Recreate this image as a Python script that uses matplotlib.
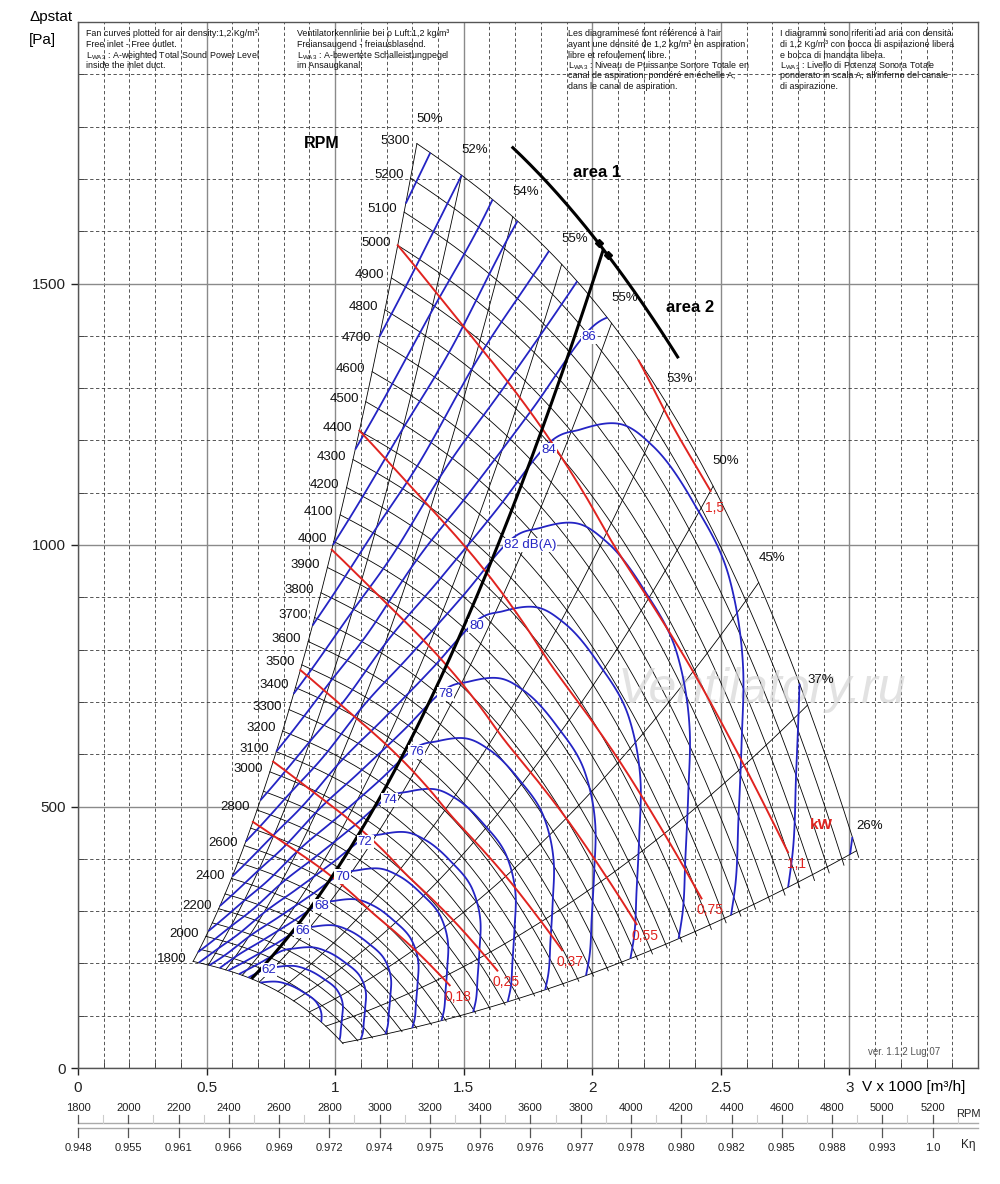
import numpy as np
import matplotlib
matplotlib.use('Agg')
import matplotlib.pyplot as plt
from matplotlib.ticker import MultipleLocator

plt.rcParams['font.family'] = ['Liberation Sans', 'DejaVu Sans']
plt.rcParams['mathtext.fontset'] = 'custom'
plt.rcParams['mathtext.rm'] = 'Liberation Sans'
plt.rcParams['mathtext.it'] = 'Liberation Sans:italic'
plt.rcParams['mathtext.bf'] = 'Liberation Sans:bold'

# ---------------- data ----------------
# fan curve at the top speed (V x1000 m3/h, Pa)
rpm_top = 5300
base_q = [1.318, 1.407, 1.492, 1.691, 1.881, 2.002, 2.095, 2.184, 2.289, 2.390, 2.499, 2.561, 2.647, 2.837, 3.028]
base_p = [1763, 1740, 1711, 1631, 1539, 1455, 1405, 1348, 1283, 1182, 1105, 1029, 910, 685, 421]
rpm_values = list(range(1800, 5301, 100))
rpm_labels = [5300, 5200, 5100, 5000, 4900, 4800, 4700, 4600, 4500, 4400, 4300, 4200,
              4100, 4000, 3900, 3800, 3700, 3600, 3500, 3400, 3300, 3200, 3100, 3000,
              2800, 2600, 2400, 2200, 2000, 1800]

# efficiency lines: flow where each meets the top-speed curve
eff_q = [1.318, 1.492, 1.691, 1.881, 2.075, 2.29, 2.47, 2.647, 2.837, 3.028]
eff_labels = ['50%', '52%', '54%', '55%', '55%', '53%', '50%', '45%', '37%', '26%']

# sound power along the top-speed curve (dB(A))
snd_q = [1.318, 1.37, 1.492, 1.597, 1.693, 1.82, 1.936, 2.02, 2.1, 2.2, 2.3, 2.45, 2.6, 2.72, 2.806, 2.9, 2.99, 3.028]
snd_db = [98.8, 98.0, 96.0, 94.3, 92.3, 90.2, 88.1, 86.4, 85.7, 85.0, 84.7, 84.55, 84.6, 85.2, 86.0, 86.9, 87.75, 88.2]
snd_levels = list(range(60, 100, 2))
snd_labeled = [62, 66, 68, 70, 72, 74, 76, 78, 80, 82, 84, 86]
snd_label_text = ['62', '66', '68', '70', '72', '74', '76', '78', '80', '82 dB(A)', '84', '86']

# absorbed power along the top-speed curve (kW)
pow_q = [1.318, 1.62, 1.94, 2.02, 2.18, 2.33, 2.5, 2.65, 2.82, 2.985, 3.028]
pow_kw = [1.31, 1.39, 1.455, 1.47, 1.50, 1.525, 1.515, 1.49, 1.45, 1.39, 1.37]
pow_levels = [0.18, 0.25, 0.37, 0.55, 0.75, 1.1, 1.5]
pow_labels = ['0,18', '0,25', '0,37', '0,55', '0,75', '1,1', '1,5']
pow_end_q = [2.884, 2.91, 2.94, 2.965, 2.98, 2.985, 2.47]

# operating line (parabola coefficient) and area separator
oper_k = 375
sep_q = [1.691, 1.796, 1.873, 2.029, 2.165, 2.332]
sep_p = [1759, 1713, 1662, 1572, 1488, 1358]

# bottom scales
rpm_scale = list(range(1800, 5201, 200))
keta_labels = ['0.948', '0.955', '0.961', '0.966', '0.969', '0.972', '0.974', '0.975', '0.976',
               '0.976', '0.977', '0.978', '0.980', '0.982', '0.985', '0.988', '0.993', '1.0']

x_ticks = [0, 0.5, 1, 1.5, 2, 2.5, 3]
x_tick_labels = ['0', '0.5', '1', '1.5', '2', '2.5', '3']
y_ticks = [0, 500, 1000, 1500]

header_cols = [
    ["Fan curves plotted for air density:1,2 Kg/m³",
     "Free inlet - Free outlet.",
     r"L$_{\mathrm{WA3}}$ : A-weighted Total Sound Power Level",
     "inside the inlet duct."],
    ["Ventilatorkennlinie bei ρ Luft:1,2 kg/m³",
     "Freiansaugend - freiausblasend.",
     r"L$_{\mathrm{WA3}}$ : A-bewertete Schalleistungpegel",
     "im Ansaugkanal."],
    ["Les diagrammesé font référence à l'air",
     "ayant une densité de 1,2 kg/m³ en aspiration",
     "libre et refoulement libre.",
     r"L$_{\mathrm{WA3}}$ : Niveau de Puissance Sonore Totale en",
     "canal de aspiration, pondéré en échelle A,",
     "dans le canal de aspiration."],
    ["I diagrammi sono riferiti ad aria con densità",
     "di 1,2 Kg/m³ con bocca di aspirazione libera",
     "e bocca di mandata libera.",
     r"L$_{\mathrm{WA3}}$ : Livello di Potenza Sonora Totale",
     "ponderato in scala A, all'inferno del canale",
     "di aspirazione."],
]
header_x_px = [86, 297, 568, 780]

# ---------------- helpers ----------------
BLUE = '#2424c4'
RED = '#e02420'
DPI = 100
W_PX, H_PX = 1000, 1184


def smooth(xk, yk, x):
    xk = np.asarray(xk, float); yk = np.asarray(yk, float); x = np.asarray(x, float)
    h = np.diff(xk); d = np.diff(yk) / h
    m = np.empty_like(yk)
    m[0] = d[0]; m[-1] = d[-1]
    m[1:-1] = (h[1:] * d[:-1] + h[:-1] * d[1:]) / (h[:-1] + h[1:])
    i = np.clip(np.searchsorted(xk, x, side='right') - 1, 0, len(xk) - 2)
    t = (x - xk[i]) / h[i]
    t2, t3 = t * t, t * t * t
    return ((2 * t3 - 3 * t2 + 1) * yk[i] + (t3 - 2 * t2 + t) * h[i] * m[i]
            + (-2 * t3 + 3 * t2) * yk[i + 1] + (t3 - t2) * h[i] * m[i + 1])


pc = np.polyfit(base_q, base_p, 3)
sc = np.polyfit(sep_q, sep_p, 2)


def P5(s):
    return np.polyval(pc, s)


s_min, s_max = base_q[0], base_q[-1]
r_min = min(rpm_values) / rpm_top

# ---------------- figure ----------------
fig = plt.figure(figsize=(W_PX / DPI, H_PX / DPI), dpi=DPI)
ax = fig.add_axes([78 / W_PX, 116 / H_PX, 900 / W_PX, 1046 / H_PX])
ax.set_xlim(0, 3.5)
ax.set_ylim(0, 2000)
ax.set_xticks(x_ticks)
ax.set_xticklabels(x_tick_labels)
ax.set_yticks(y_ticks)
ax.xaxis.set_minor_locator(MultipleLocator(0.1))
ax.yaxis.set_minor_locator(MultipleLocator(100))
ax.set_axisbelow(True)
ax.grid(which='major', color='#8a8a8a', lw=1.0, ls='-')
ax.grid(which='minor', color='#3a3a3a', lw=0.6, ls=(0, (4, 3)))
ax.tick_params(which='major', direction='out', length=5, width=1, labelsize=11, pad=4, colors='#222')
ax.tick_params(which='minor', direction='in', length=4, width=0.7, colors='#444')
for sp in ax.spines.values():
    sp.set_color('#555')
    sp.set_linewidth(1.0)

# fan curves
s_fan = np.linspace(s_min, s_max + 0.008, 300)
for n in rpm_values:
    r = n / rpm_top
    ax.plot(s_fan * r, P5(s_fan) * r ** 2, color='black', lw=0.6, zorder=1)

# efficiency lines
r_line = np.linspace(r_min, 1.0, 120)
for se in eff_q:
    ax.plot(se * r_line, P5(se) * r_line ** 2, color='black', lw=0.6, zorder=1)
for se, lab in zip(eff_q, eff_labels):
    ax.annotate(lab, (se, P5(se)), xytext=(9.4, 18), textcoords='offset points',
                ha='center', va='center', fontsize=9.5, color='#111', zorder=6)

# RPM labels
for n in rpm_labels:
    r = n / rpm_top
    ax.annotate(str(n), (s_min * r, P5(s_min) * r ** 2), xytext=(-5, 2), textcoords='offset points',
                ha='right', va='center', fontsize=9.5, color='#111', zorder=6)

# sound power contours
S, R = np.meshgrid(np.linspace(s_min, s_max, 600), np.linspace(r_min, 1.0, 400))
Qg = S * R
Pg = P5(S) * R ** 2
Lg = smooth(snd_q, snd_db, S) + 55 * np.log10(R)
ax.contour(Qg, Pg, Lg, levels=snd_levels, colors=BLUE, linewidths=1.3, zorder=2)

s_lab = 2.01
f_lab = float(smooth(snd_q, snd_db, [s_lab])[0])
for L, txt in zip(snd_labeled, snd_label_text):
    r = 10 ** ((L - f_lab) / 55)
    ax.text(s_lab * r - 0.005, P5(s_lab) * r ** 2, txt, color=BLUE, fontsize=9.5,
            ha='left', va='center', zorder=7,
            bbox=dict(boxstyle='square,pad=0.08', fc='white', ec='none'))

# absorbed power lines
for W, lab, se in zip(pow_levels, pow_labels, pow_end_q):
    s = np.linspace(s_min, se, 1500)
    r = (W / smooth(pow_q, pow_kw, s)) ** (1 / 3)
    ok = (r <= 1.0) & (r >= r_min)
    ax.plot((s * r)[ok], (P5(s) * r ** 2)[ok], color=RED, lw=1.4, zorder=2.5)
    qe, pe = (s * r)[ok][-1], (P5(s) * r ** 2)[ok][-1]
    off = (3, -12) if W == 1.5 else (6, -8.5)
    ax.annotate(lab, (qe, pe), xytext=off, textcoords='offset points', ha='center', va='center',
                color=RED, fontsize=10, zorder=7)

# operating line
sg = np.linspace(s_min, s_max, 2000)
kg = P5(sg) / sg ** 2
s_op = np.interp(oper_k, kg[::-1], sg[::-1])
qg = np.linspace(sep_q[0], sep_q[-1], 2000)
sep_smooth = np.polyval(sc, qg)
q_end = qg[np.argmin(np.abs(sep_smooth - oper_k * qg ** 2))]
q_op = np.linspace(s_op * r_min, q_end, 200)
ax.plot(q_op, oper_k * q_op ** 2, color='black', lw=2.2, zorder=3, solid_capstyle='butt')

# area separator
ax.plot(qg, sep_smooth, color='black', lw=2.2, zorder=3)
for dq in (-0.018, 0.018):
    ax.plot([q_end + dq], [np.polyval(sc, q_end + dq)], marker='D', ms=4.5,
            color='black', zorder=4)

# annotations
ax.text(0.948, 1767, 'RPM', fontsize=11.5, fontweight='bold', ha='center', va='center', zorder=6)
ax.text(2.017, 1713, 'area 1', fontsize=12, fontweight='bold', ha='center', va='center', zorder=6)
ax.text(2.379, 1455, 'area 2', fontsize=12, fontweight='bold', ha='center', va='center', zorder=6)
ax.text(2.892, 465, 'kW', fontsize=11, fontweight='bold', color=RED, ha='center', va='center', zorder=6)
ax.text(2.66, 722, 'Ventilatory.ru', fontsize=36, style='italic', color='#d6d6d6', alpha=0.7,
        ha='center', va='center', zorder=1.5)
ax.text(3.214, 31, 'ver. 1.1.2 Lug 07', fontsize=7, color='#555', ha='center', va='center', zorder=6)

# header texts
for col, xp in zip(header_cols, header_x_px):
    for i, line in enumerate(col):
        yp = 34 + 10.5 * i
        fig.text(xp / W_PX, 1 - yp / H_PX, line, fontsize=6.4, ha='left', va='center', color='#111')

# axis titles
fig.text(29 / W_PX, 1 - 17 / H_PX, 'Δpstat', fontsize=11, ha='left', va='center')
fig.text(29 / W_PX, 1 - 40 / H_PX, '[Pa]', fontsize=11, ha='left', va='center')
fig.text(862 / W_PX, 1 - 1087 / H_PX, 'V x 1000 [m³/h]', fontsize=11, ha='left', va='center')

# bottom scales (RPM and K-eta)
axs = fig.add_axes([78 / W_PX, (H_PX - 1170) / H_PX, 900 / W_PX, 75 / H_PX])
px_per_rpm = 50.27 / 200
axs.set_xlim(1800, 1800 + 900 / px_per_rpm)
axs.set_ylim(1170, 1095)
axs.axis('off')
xr_end = 1800 + 900 / px_per_rpm
axs.plot([1800, xr_end], [1123, 1123], color='#aaaaaa', lw=1.0, clip_on=False)
axs.plot([1800, xr_end], [1128, 1128], color='#aaaaaa', lw=1.0, clip_on=False)
narrow = ['Liberation Sans Narrow', 'Liberation Sans']
for v in range(1900, 5400, 200):
    axs.plot([v, v], [1115, 1123], color='#cccccc', lw=0.8, clip_on=False)
for v, kl in zip(rpm_scale, keta_labels):
    axs.plot([v, v], [1115, 1123], color='#555', lw=0.9, clip_on=False)
    axs.plot([v, v], [1128, 1137], color='#555', lw=0.9, clip_on=False)
    axs.text(v, 1108, str(v), fontsize=8, family=narrow, ha='center', va='center', color='#222')
    axs.text(v, 1148, kl, fontsize=8, family=narrow, ha='center', va='center', color='#222')
x_side = 1800 + (968 - 78) / px_per_rpm
axs.text(x_side, 1114, 'RPM', fontsize=8, family=narrow, ha='center', va='center', color='#222')
axs.text(x_side, 1145, 'Kη', fontsize=8.5, family=narrow, ha='center', va='center', color='#222')

fig.savefig('out.png', dpi=DPI)
